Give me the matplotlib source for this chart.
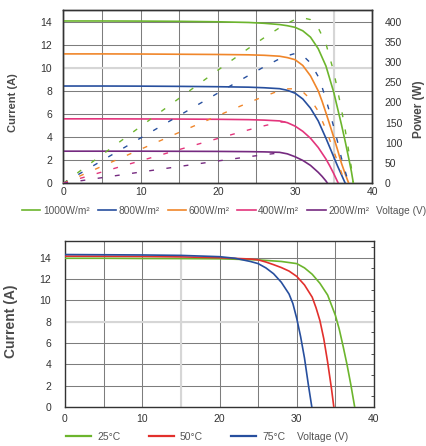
import numpy as np
import matplotlib
matplotlib.use("Agg")
import matplotlib.pyplot as plt
from matplotlib.ticker import MultipleLocator

plt.rcParams['font.family'] = ['Liberation Sans', 'DejaVu Sans']

# ---------------- data: irradiance chart (current vs voltage) ----------------
irr_labels = ["1000W/m²", "800W/m²", "600W/m²", "400W/m²", "200W/m²"]

v_1000 = [0, 5, 10, 15, 20, 24, 26, 28, 29, 30, 31, 32, 33, 34, 35, 35.5, 36, 36.5, 37, 37.3, 37.55]
i_1000 = [14.05, 14.05, 14.04, 14.02, 13.98, 13.92, 13.85, 13.74, 13.64, 13.5, 13.2, 12.65, 11.65,
          10.15, 7.9, 6.5, 5.1, 3.6, 2.0, 1.0, 0]

v_112 = [0, 5, 10, 15, 20, 24, 26, 28, 29, 30, 31, 32, 33, 33.5, 34, 34.5, 35, 35.5, 36, 36.5, 36.95]
i_112 = [11.2, 11.2, 11.19, 11.17, 11.15, 11.12, 11.08, 11.0, 10.88, 10.7, 10.2, 9.3, 8.0, 7.1,
         6.1, 5.06, 4.0, 2.9, 1.75, 0.8, 0]

v_84 = [0, 5, 10, 15, 20, 24, 26, 28, 29, 30, 31, 32, 33, 34, 34.5, 35, 35.5, 36, 36.5]
i_84 = [8.42, 8.42, 8.41, 8.39, 8.36, 8.32, 8.27, 8.19, 8.05, 7.8, 7.3, 6.5, 5.4, 3.9, 3.1, 2.3,
        1.5, 0.75, 0]

v_56 = [0, 5, 10, 15, 20, 24, 26, 28, 29, 30, 31, 32, 33, 34, 34.5, 35, 35.6]
i_56 = [5.58, 5.58, 5.57, 5.56, 5.54, 5.51, 5.47, 5.4, 5.25, 4.95, 4.5, 3.9, 3.1, 2.1, 1.5, 0.85, 0]

v_28 = [0, 5, 10, 15, 20, 24, 26, 28, 29, 30, 31, 32, 33, 33.5, 34, 34.2]
i_28 = [2.78, 2.78, 2.78, 2.77, 2.76, 2.74, 2.72, 2.68, 2.55, 2.3, 1.98, 1.55, 0.95, 0.6, 0.2, 0]

# power curves (dashed) shown up to these voltages
p_vmax_56 = 30
p_vmax_28 = 28

# ---------------- data: temperature chart ----------------
temp_labels = ["25°C", "50°C", "75°C"]
v_25 = [0, 5, 10, 15, 20, 25, 28, 30, 31, 32, 33, 34, 35, 35.5, 36, 36.5, 37, 37.5]
i_25 = [13.95, 13.95, 13.93, 13.92, 13.9, 13.8, 13.65, 13.45, 13.05, 12.45, 11.6, 10.5, 8.6, 7.3,
        5.7, 4.0, 2.1, 0]
v_50 = [0, 5, 10, 15, 20, 22, 24, 25, 26, 27, 28, 29, 30, 31, 32, 32.5, 33, 33.5, 34, 34.5, 34.8]
i_50 = [14.15, 14.14, 14.12, 14.08, 14.0, 13.94, 13.88, 13.8, 13.6, 13.35, 13.08, 12.75, 12.25,
        11.45, 10.3, 9.3, 8.1, 6.4, 4.2, 1.7, 0]
v_75 = [0, 5, 10, 15, 20, 22, 24, 25, 26, 27, 28, 29, 29.5, 30, 30.5, 31, 31.5, 31.95]
i_75 = [14.3, 14.28, 14.26, 14.22, 14.1, 13.95, 13.65, 13.45, 13.05, 12.5, 11.7, 10.6, 9.7, 8.3,
        6.6, 4.6, 2.1, 0]

# ---------------- colours ----------------
GREEN = "#6cb52d"
BLUE = "#274f9e"
ORANGE = "#f0862a"
PINK = "#e3357c"
PURPLE = "#752a80"
RED = "#e2302c"
GRID = "#7d7d7d"
LIGHT = "#d6d6d6"
TXT = "#333333"
LAB = "#4a4a4a"

W, H = 427, 446
fig = plt.figure(figsize=(W / 100, H / 100), dpi=100)

def style_axes(ax, light_x, light_y, ylim_top, label_size, pad_y, pad_x):
    ax.set_xlim(0, 40)
    ax.set_ylim(0, ylim_top)
    ax.xaxis.set_major_locator(MultipleLocator(10))
    ax.xaxis.set_minor_locator(MultipleLocator(5))
    ax.yaxis.set_major_locator(MultipleLocator(2))
    ax.set_axisbelow(True)
    ax.grid(True, which='both', axis='x', color=GRID, lw=0.75)
    ax.grid(True, which='major', axis='y', color=GRID, lw=0.75)
    ax.axvline(light_x, color=LIGHT, lw=1.5, zorder=1.2)
    ax.axhline(light_y, color=LIGHT, lw=1.5, zorder=1.2)
    ax.tick_params(axis='both', which='both', length=0, labelsize=label_size, colors=TXT)
    ax.tick_params(axis='y', pad=pad_y)
    ax.tick_params(axis='x', pad=pad_x)
    for s in ax.spines.values():
        s.set_color("#333333")
        s.set_linewidth(1.0)

# ================= top chart =================
ax1 = fig.add_axes([63.3 / W, 1 - 183.3 / H, 309 / W, 173.3 / H])
style_axes(ax1, 35, 10, 15, 7.5, 8, 3)

cur_series = [(v_1000, i_1000, GREEN), (v_84, i_84, BLUE), (v_112, i_112, ORANGE),
              (v_56, i_56, PINK), (v_28, i_28, PURPLE)]
handles = []
for (v, i, c), lab in zip(cur_series, irr_labels):
    ln, = ax1.plot(v, i, color=c, lw=1.2, zorder=3, label=lab)
    handles.append(ln)

ax1.set_ylabel("Current (A)", fontsize=8, fontweight='bold', color=LAB)
ax1.yaxis.set_label_coords(-0.146, 0.466)

ax2 = ax1.twinx()
ax2.set_ylim(0, 400 * 15 / 14)
ax2.yaxis.set_major_locator(MultipleLocator(50))
ax2.tick_params(axis='y', length=0, labelsize=7.5, colors=TXT, pad=9)
for s in ax2.spines.values():
    s.set_color("#333333")
    s.set_linewidth(1.0)

dash = (0, (3.5, 9))
pow_series = [(v_1000, i_1000, GREEN, None), (v_112, i_112, BLUE, None), (v_84, i_84, ORANGE, None),
              (v_56, i_56, PINK, p_vmax_56), (v_28, i_28, PURPLE, p_vmax_28)]
for v, i, c, vmax in pow_series:
    va = np.array(v, dtype=float)
    ia = np.array(i, dtype=float)
    if vmax is not None:
        m = va <= vmax
        va, ia = va[m], ia[m]
    ax2.plot(va, va * ia, color=c, lw=1.0, linestyle=dash, zorder=3)

ax2.set_ylabel("Power (W)", fontsize=8.5, fontweight='bold', color=LAB)
ax2.yaxis.set_label_coords(1.132, 0.43)

leg1 = ax1.legend(handles=handles, ncol=5, loc='center left', frameon=False,
                  bbox_to_anchor=(22 / W, 1 - 211 / H), bbox_transform=fig.transFigure,
                  fontsize=7.3, handlelength=1.8, handletextpad=0.25, columnspacing=0.8,
                  borderpad=0, borderaxespad=0)
for t in leg1.get_texts():
    t.set_color("#555555")
fig.text(376 / W, 1 - 211 / H, "Voltage (V)", fontsize=7.3, color="#555555",
         ha='left', va='center')

# ================= bottom chart =================
ax3 = fig.add_axes([65 / W, 1 - 407 / H, 309 / W, 166 / H])
style_axes(ax3, 15, 8, 15.57, 7.5, 10, 5)
ax3.yaxis.set_minor_locator(MultipleLocator(1))
ax3.tick_params(axis='y', which='minor', left=False, right=True, length=2,
                direction='in', color="#333333")

temp_series = [(v_25, i_25, GREEN), (v_50, i_50, RED), (v_75, i_75, BLUE)]
handles2 = []
for (v, i, c), lab in zip(temp_series, temp_labels):
    ln, = ax3.plot(v, i, color=c, lw=1.2, zorder=3, label=lab)
    handles2.append(ln)

ax3.set_ylabel("Current (A)", fontsize=10, fontweight='bold', color=LAB)
ax3.yaxis.set_label_coords(-0.151, 0.514)

leg2 = ax3.legend(handles=handles2, ncol=3, loc='center left', frameon=False,
                  bbox_to_anchor=(66 / W, 1 - 437 / H), bbox_transform=fig.transFigure,
                  fontsize=7.5, handlelength=2.4, handletextpad=0.6, columnspacing=2.7,
                  borderpad=0, borderaxespad=0)
for t in leg2.get_texts():
    t.set_color("#555555")
for ln in leg2.get_lines():
    ln.set_linewidth(1.6)
fig.text(297 / W, 1 - 437 / H, "Voltage (V)", fontsize=7.5, color="#555555",
         ha='left', va='center')

fig.savefig("out.png", dpi=100)
